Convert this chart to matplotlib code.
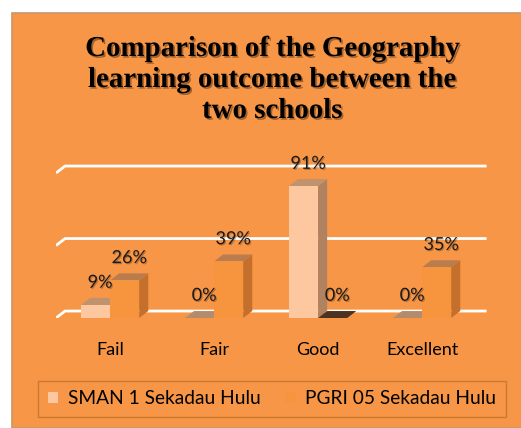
import matplotlib
matplotlib.use("Agg")
import matplotlib.pyplot as plt
from matplotlib.patches import Polygon, Rectangle, Patch
import matplotlib.patheffects as pe

# data
categories = ["Fail", "Fair", "Good", "Excellent"]
series_names = ["SMAN 1 Sekadau Hulu", "PGRI 05 Sekadau Hulu"]
sman = [9, 0, 91, 0]
pgri = [26, 39, 0, 35]
grid_levels = [0, 50, 100]

bg = "#F79646"
front_cols = ["#FDC8A0", "#F7943E"]
top_cols = ["#C0926E", "#B97C4E"]
side_cols = ["#B0825F", "#C4702C"]
zero_cols = ["#B48C6C", "#4E3220"]

plt.rcParams["font.family"] = ["Lato", "DejaVu Sans"]

fig = plt.figure(figsize=(5.21, 4.28), dpi=100)
fig.patch.set_facecolor("white")
# orange chart panel
fig.patches.append(Rectangle((12 / 521, 0), 1, 1 - 13 / 428, transform=fig.transFigure,
                             facecolor=bg, edgecolor="#C8966A", lw=1.2, zorder=-5))

shadow = [pe.withSimplePatchShadow(offset=(1.2, -1.2), shadow_rgbFace="black", alpha=0.35)]
fig.text(0.523, 1 - 35 / 428, "Comparison of the Geography\nlearning outcome between the\ntwo schools",
         ha="center", va="top", fontsize=20.8, fontweight="bold", family="Liberation Serif",
         linespacing=1.19, color="black", path_effects=shadow)

ax = fig.add_axes([56 / 521, 110 / 428, 433.7 / 521, 159.5 / 428])
ax.patch.set_alpha(0)
ax.set_xlim(-0.52, 3.65)
ax.set_ylim(0, 110)
for s in ax.spines.values():
    s.set_visible(False)
ax.set_yticks([])
ax.set_xticks(range(len(categories)))
ax.set_xticklabels(categories, fontsize=13)
ax.tick_params(axis="x", length=0, pad=17)

dx, dy = 0.087, 4.8
w = 0.28

# back wall gridlines with slanted floor edge
x0, x1 = -0.52, 3.62
for v in grid_levels:
    ax.plot([x0, x0 + dx, x1], [v, v + dy, v + dy], color="white", lw=2, zorder=1,
            solid_capstyle="butt")

lab_fx = [pe.withSimplePatchShadow(offset=(0.8, -0.8), shadow_rgbFace="black", alpha=0.25)]
for k, vals in enumerate([sman, pgri]):
    for i, v in enumerate(vals):
        xl = i - w + k * w
        xr = xl + w
        z = 2 + k
        if v > 0:
            ax.add_patch(Polygon([(xr, 0), (xr + dx, dy), (xr + dx, v + dy), (xr, v)],
                                 closed=True, facecolor=side_cols[k], edgecolor="none", zorder=z))
            ax.add_patch(Polygon([(xl, v), (xl + dx, v + dy), (xr + dx, v + dy), (xr, v)],
                                 closed=True, facecolor=top_cols[k], edgecolor="none", zorder=z))
            ax.bar(xl, v, width=w, align="edge", color=front_cols[k], zorder=z)
        else:
            ax.add_patch(Polygon([(xl, 0), (xl + dx, dy), (xr + dx, dy), (xr, 0)],
                                 closed=True, facecolor=zero_cols[k], edgecolor="none", zorder=z))
        ax.annotate(f"{v}%", (xl + w / 2 + dx / 2, v), xytext=(0, 16), textcoords="offset points",
                    ha="center", va="center", fontsize=13, color="#1a1a1a", zorder=5,
                    path_effects=lab_fx)

handles = [Patch(facecolor=front_cols[0], edgecolor="none"),
           Patch(facecolor=front_cols[1], edgecolor="none")]
leg = fig.legend(handles, series_names, loc="center", bbox_to_anchor=(272 / 521, 1 - 399 / 428),
                 ncol=2, frameon=True, fontsize=13.8, handlelength=0.55, handleheight=0.55,
                 handletextpad=0.5, columnspacing=1.3, borderpad=0.5, fancybox=False)
leg.get_frame().set_facecolor("none")
leg.get_frame().set_edgecolor("#C0742E")
leg.get_frame().set_linewidth(1.0)

fig.savefig("out.png", dpi=100)
